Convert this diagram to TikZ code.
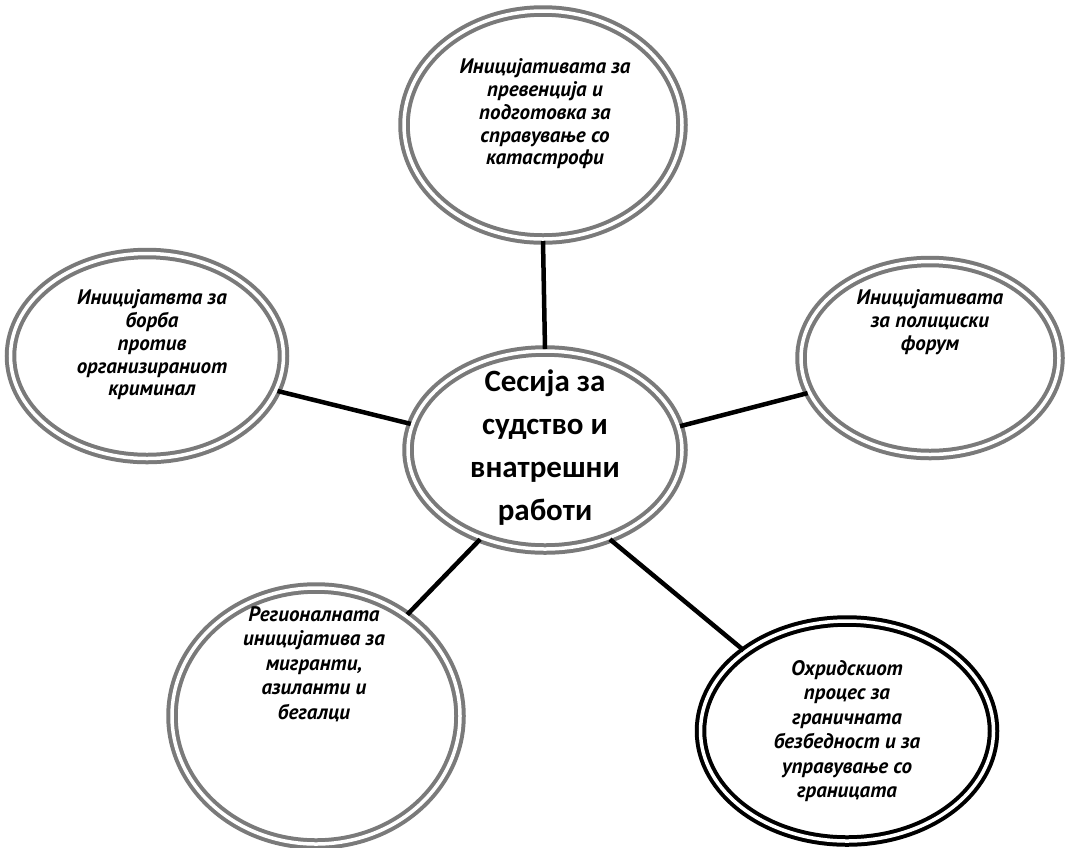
\documentclass[tikz,border=0pt]{standalone}
\usepackage{fontspec}
\setmainfont{PT Sans}
\newfontfamily\carlito{Carlito}
\usetikzlibrary{shapes.geometric}
\begin{document}
\begin{tikzpicture}[x=1pt,y=-1pt,
  ring/.style={ellipse, draw=black!52, line width=4pt, double=white, double distance=3.5pt, inner sep=0pt},
  bring/.style={ellipse, draw=black, line width=4pt, double=white, double distance=3.5pt, inner sep=0pt},
  lbl/.style={align=center, font=\fontsize{21}{22.8}\selectfont\bfseries\itshape},
  lblb/.style={lbl, font=\fontsize{21}{24.5}\selectfont\bfseries\itshape},
  clbl/.style={align=center, font=\carlito\fontsize{31}{43}\selectfont\bfseries},
  link/.style={line width=4.5pt, black}]
\fill[white] (0,0) rectangle (1075,847);
\useasboundingbox (0,0) rectangle (1075,847);

\node[ring, minimum width=278pt, minimum height=228pt] (top) at (543,125) {};
\node[ring, minimum width=273pt, minimum height=205pt] (left) at (147,356) {};
\node[ring, minimum width=258pt, minimum height=193pt] (right) at (930,358) {};
\node[ring, minimum width=274pt, minimum height=198pt] (c) at (545,450) {};
\node[ring, minimum width=288pt, minimum height=256pt] (bl) at (316,716) {};
\node[bring, minimum width=293pt, minimum height=220pt] (br) at (847,731) {};

\node[lbl] (ttop) at (545,114) {Иницијативата за\\превенција и\\подготовка за\\справување со\\катастрофи};
\node[lbl] (tleft) at (152,345) {Иницијатвта за\\борба\\против\\организираниот\\криминал};
\node[lbl] (tright) at (930,322) {Иницијативата\\за полициски\\форум};
\node[clbl] (tc) at (545,448) {Сесија за\\судство и\\внатрешни\\работи};
\node[lblb] (tbl) at (314,664) {Регионалната\\иницијатива за\\мигранти,\\азиланти и\\бегалци};
\node[lblb] (tbr) at (847,731) {Охридскиот\\процес за\\граничната\\безбедност и за\\управување со\\границата};

\draw[link] (top.-90) -- (c.90);
\draw[link] (left.-15) -- (c.169);
\draw[link] (right.-164) -- (c.10);
\draw[link] (bl.48) -- (c.-126);
\draw[link] (br.142) -- (c.-54);
\end{tikzpicture}
\end{document}
